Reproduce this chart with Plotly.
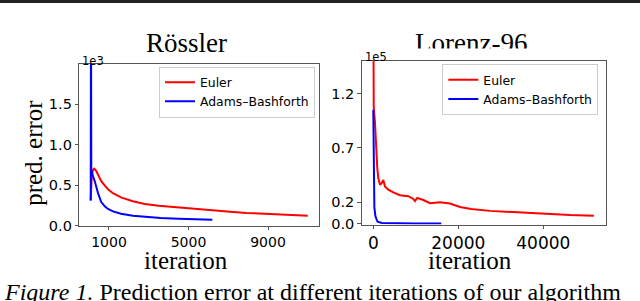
import plotly.graph_objects as go

# ---------------- data ----------------
# Rössler (values in raw units, axis shows x1e3)
ross_euler_x = [80, 130, 190, 260, 360, 470, 610, 800, 950, 1200, 1600, 2200, 2800, 3500,
                4500, 5400, 6200, 7100, 7900, 8800, 9600, 10300, 11000]
ross_euler_y = [310, 600, 690, 705, 675, 620, 550, 490, 450, 400, 348, 300, 268, 245,
                222, 203, 186, 170, 156, 144, 134, 128, 122]
ross_ab_x = [80, 95, 110, 180, 280, 450, 610, 800, 950, 1200, 1600, 2200, 2800, 3600,
             4500, 5400, 6200]
ross_ab_y = [310, 2600, 690, 620, 550, 400, 290, 235, 205, 175, 145, 120, 105, 92,
             84, 77, 72]

# Lorenz-96 (values in raw units, axis shows x1e5)
lor_euler_x = [0, 100, 400, 635, 940, 1180, 1580, 1960, 2350, 2750, 3530, 4700, 6270,
               8240, 9410, 9800, 10350, 11760, 13340, 15690, 18040, 20400, 23000,
               27450, 33740, 41580, 46280, 51900]
lor_euler_y = [220000, 108000, 93000, 69000, 51000, 42000, 36000, 37500, 40500, 34500,
               31500, 29000, 26400, 25500, 23000, 21000, 24000, 22000, 19000, 20000,
               18700, 15600, 13700, 12000, 10500, 9000, 8100, 7500]
lor_ab_x = [0, 150, 250, 500, 1000, 2000, 5000, 10000, 16000]
lor_ab_y = [105000, 45000, 15000, 7000, 2000, 800, 400, 300, 300]

ross_xticks = [1000, 5000, 9000]
ross_xticktext = ["1000", "5000", "9000"]
ross_yticks = [0, 500, 1000, 1500]
ross_yticktext = ["0.0", "0.5", "1.0", "1.5"]
lor_xticks = [0, 20000, 40000]
lor_xticktext = ["0", "20000", "40000"]
lor_yticks = [0, 20000, 70000, 120000]
lor_yticktext = ["0.0", "0.2", "0.7", "1.2"]

series_names = ["Euler", "Adams–Bashforth"]
series_colors = ["#ff0000", "#0000ff"]

W, H = 640, 301


def px(x):
    return x / W


def py(y):
    return (H - y) / H


fig = go.Figure()
fig.add_trace(go.Scatter(x=ross_euler_x, y=ross_euler_y, mode="lines", name=series_names[0],
                         line=dict(color=series_colors[0], width=2), xaxis="x", yaxis="y",
                         legend="legend"))
fig.add_trace(go.Scatter(x=ross_ab_x, y=ross_ab_y, mode="lines", name=series_names[1],
                         line=dict(color=series_colors[1], width=2), xaxis="x", yaxis="y",
                         legend="legend"))
fig.add_trace(go.Scatter(x=lor_euler_x, y=lor_euler_y, mode="lines", name=series_names[0],
                         line=dict(color=series_colors[0], width=2), xaxis="x2", yaxis="y2",
                         legend="legend2"))
fig.add_trace(go.Scatter(x=lor_ab_x, y=lor_ab_y, mode="lines", name=series_names[1],
                         line=dict(color=series_colors[1], width=2), xaxis="x2", yaxis="y2",
                         legend="legend2"))


def axstyle(size):
    return dict(showline=True, mirror=True, linecolor="#555", linewidth=1,
                ticks="outside", ticklen=3.5, tickwidth=1, tickcolor="#555",
                showgrid=False, zeroline=False,
                tickfont=dict(family="DejaVu Sans", size=size, color="black"))


legfont = dict(family="DejaVu Sans", size=12.4, color="black")

fig.update_layout(
    width=W, height=H, margin=dict(l=0, r=0, t=0, b=0),
    paper_bgcolor="white", plot_bgcolor="white",
    xaxis=dict(domain=[px(79.3), px(319)], range=[-494, 11566], tickvals=ross_xticks,
               ticktext=ross_xticktext, anchor="y", **axstyle(14)),
    yaxis=dict(domain=[py(231.7), py(65.7)], range=[0, 2000], tickvals=ross_yticks,
               ticktext=ross_yticktext, anchor="x", **axstyle(14.5)),
    xaxis2=dict(domain=[px(361.7), px(605.7)], range=[-2730, 54680], tickvals=lor_xticks,
                ticktext=lor_xticktext, anchor="y2", **axstyle(17)),
    yaxis2=dict(domain=[py(230.7), py(62.3)], range=[-600, 150200], tickvals=lor_yticks,
                ticktext=lor_yticktext, anchor="x2", **axstyle(14.5)),
    legend=dict(x=px(159), y=py(68.5), xanchor="left", yanchor="top", bgcolor="white",
                bordercolor="#cccccc", borderwidth=1, font=legfont, tracegroupgap=0),
    legend2=dict(x=px(442.3), y=py(66), xanchor="left", yanchor="top", bgcolor="white",
                 bordercolor="#cccccc", borderwidth=1, font=legfont, tracegroupgap=0),
    showlegend=True,
)

serif = "Liberation Serif"
ann = []
# titles
title_y = py(51.7 - 0.3375 * 27 + 1.5)
ann.append(dict(text="Rössler", x=px(186), y=title_y, xref="paper", yref="paper",
                xanchor="center", yanchor="middle", showarrow=False,
                font=dict(family=serif, size=27, color="black")))
ann.append(dict(text="Lorenz-96", x=px(471), y=title_y, xref="paper", yref="paper",
                xanchor="center", yanchor="middle", showarrow=False,
                font=dict(family=serif, size=27, color="black")))
# cover the bottom of Lorenz-96 title (cropped in source)
ann.append(dict(text=" ", x=px(471), y=py(49.3), xref="paper", yref="paper",
                xanchor="center", yanchor="top", showarrow=False, width=130, height=8,
                bgcolor="white", borderpad=0, font=dict(size=4)))
# exponent labels
ann.append(dict(text="1e3", x=px(80), y=py(62.5), xref="paper", yref="paper",
                xanchor="left", yanchor="middle", showarrow=False,
                font=dict(family="DejaVu Sans", size=11.5, color="black")))
ann.append(dict(text="1e5", x=px(362.5), y=py(58.7), xref="paper", yref="paper",
                xanchor="left", yanchor="middle", showarrow=False,
                font=dict(family="DejaVu Sans", size=11.5, color="black")))
# axis titles
xt_y = py(271.7 - 0.3375 * 25 + 4)
ann.append(dict(text="iteration", x=px(186), y=xt_y, xref="paper", yref="paper",
                xanchor="center", yanchor="middle", showarrow=False,
                font=dict(family=serif, size=25, color="black")))
ann.append(dict(text="iteration", x=px(470), y=xt_y, xref="paper", yref="paper",
                xanchor="center", yanchor="middle", showarrow=False,
                font=dict(family=serif, size=25, color="black")))
ann.append(dict(text="pred. error", x=px(34), y=py(157), xref="paper", yref="paper",
                xanchor="center", yanchor="middle", showarrow=False, textangle=-90,
                font=dict(family=serif, size=25, color="black")))
# caption
ann.append(dict(text="<i>Figure 1.</i> Prediction error at different iterations of our algorithm",
                x=px(2), y=py(300), xref="paper", yref="paper",
                xanchor="left", yanchor="middle", showarrow=False,
                font=dict(family=serif, size=24, color="black")))
fig.update_layout(annotations=ann)

# top rule
fig.add_shape(type="rect", xref="paper", yref="paper", x0=0, x1=1, y0=py(3), y1=py(0),
              fillcolor="#222", line=dict(width=0), layer="above")

fig.write_html("out.html", config={"displayModeBar": False},
               post_script="document.body.style.margin='0';document.body.style.overflow='hidden';")
